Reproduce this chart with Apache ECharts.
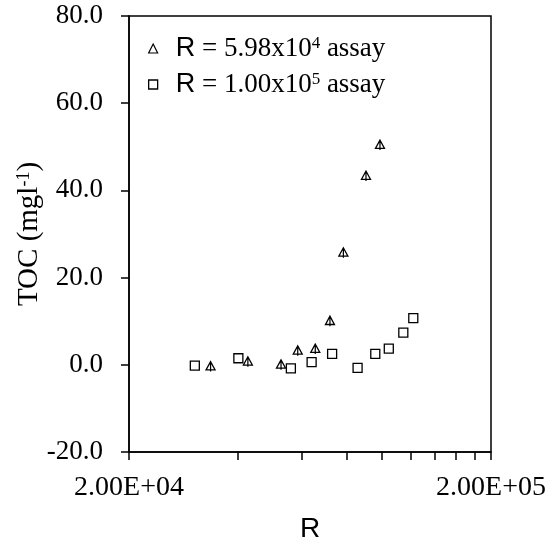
<!DOCTYPE html>
<html lang="en">
<head>
    <meta charset="UTF-8">
    <title>TOC vs R</title>
    <script src="https://cdn.jsdelivr.net/npm/echarts@6/dist/echarts.min.js"></script>
</head>
<body style="margin: 0; background: #fff">
<div id="container" style="width: 557px; height: 556px"></div>
<script>
    // R = 5.98x10^4 assay
    var triR = [33600, 42600, 52600, 58500, 65400, 71800, 78200, 90300, 98700];
    var triToc = [-0.4, 0.7, 0.0, 3.2, 3.6, 10.0, 25.7, 43.3, 50.4];
    // R = 1.00x10^5 assay
    var sqR = [30400, 40100, 56000, 63900, 72800, 85600, 95800, 104400, 114500, 122000];
    var sqToc = [-0.2, 1.5, -0.8, 0.6, 2.5, -0.7, 2.5, 3.7, 7.4, 10.7];
    var xTicks = [20000, 40000, 60000, 80000, 100000, 120000, 140000, 160000, 180000, 200000];
    var xLabels = [20000, 200000];

    var serif = 'Liberation Serif';
    var sans = 'Liberation Sans';

    function zip(xs, ys) {
        var out = [];
        for (var i = 0; i < xs.length; i++) out.push([xs[i], ys[i]]);
        return out;
    }

    function sci(v) {
        var s = v.toExponential(2).toUpperCase();   // 2.00E+4
        return s.replace(/E([+-])(\d)$/, 'E$10$2');
    }

    var triPath = 'path://M5 0 L10 10 L0 10 Z M5 0 L5 12';
    var hollow = {color: '#fff', borderColor: '#000', borderWidth: 1.3, opacity: 1};

    var myChart = echarts.init(document.getElementById('container'));
    var option = {
        animation: false,
        grid: {
            left: 129, right: 66, top: 16, bottom: 104,
            show: true, borderColor: '#000', borderWidth: 1.5
        },
        legend: {
            orient: 'vertical',
            left: 143, top: 30,
            itemWidth: 9, itemHeight: 9, itemGap: 9,
            itemStyle: hollow,
            data: [{name: 'tri', icon: 'triangle', itemStyle: {borderWidth: 1.2}}, {name: 'sq', icon: 'rect'}],
            formatter: function (name) {
                if (name === 'tri') return '{r|R}{t| = 5.98x10}{s|4}{t| assay}';
                return '{r|R}{t| = 1.00x10}{s|5}{t| assay}';
            },
            textStyle: {
                rich: {
                    r: {fontFamily: sans, fontSize: 27, color: '#000', padding: [0, 0, 0, 13]},
                    t: {fontFamily: serif, fontSize: 27, color: '#000'},
                    s: {fontFamily: serif, fontSize: 17, color: '#000', verticalAlign: 'top', padding: [0, 0, 10, 0]}
                }
            }
        },
        xAxis: {
            type: 'log', logBase: 10, min: 20000, max: 200000,
            name: 'R', nameLocation: 'middle', nameGap: 63, nameMoveOverlap: false,
            nameTextStyle: {fontFamily: sans, fontSize: 28, color: '#000'},
            axisLine: {onZero: false, lineStyle: {color: '#000', width: 1.5}},
            axisTick: {show: true, length: 8, customValues: xTicks, lineStyle: {color: '#000', width: 1.5}},
            minorTick: {show: false},
            splitLine: {show: false},
            axisLabel: {
                customValues: xLabels, margin: 22,
                fontFamily: serif, fontSize: 28, color: '#000',
                formatter: function (v) { return sci(v); }
            }
        },
        yAxis: {
            type: 'value', min: -20, max: 80, interval: 20,
            name: '{t|TOC (mgl}{s|-1}{t|)}', nameLocation: 'middle', nameGap: 85, nameRotate: 90,
            nameMoveOverlap: false,
            nameTextStyle: {
                rich: {
                    t: {fontFamily: serif, fontSize: 29, color: '#000'},
                    s: {fontFamily: serif, fontSize: 18, color: '#000', verticalAlign: 'top', padding: [0, 0, 11, 0]}
                }
            },
            axisLine: {show: true, onZero: false, lineStyle: {color: '#000', width: 1.5}},
            axisTick: {show: true, length: 8, lineStyle: {color: '#000', width: 1.5}},
            splitLine: {show: false},
            axisLabel: {
                margin: 26, fontFamily: serif, fontSize: 27, color: '#000',
                formatter: function (v) { return v.toFixed(1); }
            }
        },
        series: [{
            name: 'tri', type: 'scatter',
            symbol: triPath, symbolSize: [9, 10],
            itemStyle: hollow,
            data: zip(triR, triToc)
        }, {
            name: 'sq', type: 'scatter',
            symbol: 'rect', symbolSize: 9,
            itemStyle: hollow,
            data: zip(sqR, sqToc)
        }]
    };
    myChart.setOption(option);
</script>
</body>
</html>
